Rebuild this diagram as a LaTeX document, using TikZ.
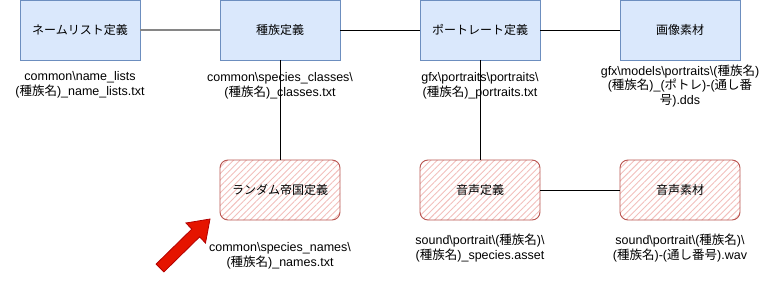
\documentclass[tikz,border=0pt]{standalone}
\usepackage{fontspec}
\setmainfont{Liberation Sans}
\newfontfamily\jp{Noto Sans CJK JP}
\usetikzlibrary{patterns.meta}
\definecolor{bluefill}{HTML}{DAE8FC}
\definecolor{blueline}{HTML}{6C8EBF}
\definecolor{redline}{HTML}{B85450}
\definecolor{hatch}{HTML}{F2BFBC}
\definecolor{arrowred}{HTML}{E51400}
\definecolor{arrowline}{HTML}{B20000}
\tikzset{
  bluebox/.style={draw=blueline, fill=bluefill, line width=0.9pt, minimum width=120pt, minimum height=60pt, inner sep=0pt, font=\jp\fontsize{12}{15}\selectfont},
  redbox/.style={draw=redline, line width=0.9pt, rounded corners=8pt, pattern={Lines[angle=45,distance=4.5pt,line width=0.9pt]}, pattern color=hatch, minimum width=120pt, minimum height=60pt, inner sep=0pt, font=\jp\fontsize{12}{15}\selectfont},
  lbl/.style={align=center, inner sep=0pt, font=\fontsize{12.5}{14.5}\selectfont},
  conn/.style={draw=black, line width=0.9pt},
  grayconn/.style={draw=gray!95, line width=2pt},
  bigarrow/.style={draw=arrowline, fill=arrowred, line width=0.8pt, line join=miter}
}
\newcommand{\bs}{\textbackslash}
\newcommand{\spn}{{\jp 種族名}}
\begin{document}
\begin{tikzpicture}[x=1pt,y=-1pt]
\useasboundingbox (0,0) rectangle (761,292);
% blue boxes
\node[bluebox] (nl) at (80,30) {ネームリスト定義};
\node[bluebox] (sc) at (280,30) {種族定義};
\node[bluebox] (pt) at (480,30) {ポートレート定義};
\node[bluebox] (im) at (680,30) {画像素材};
% red boxes
\node[redbox] (re) at (280,190) {ランダム帝国定義};
\node[redbox] (vo) at (480,190) {音声定義};
\node[redbox] (vm) at (680,190) {音声素材};
% labels
\node[lbl] (l1) at (80,85) {common\bs name\_lists\\(\spn)\_name\_lists.txt};
\node[lbl] (l2) at (280,86) {common\bs species\_classes\bs\\(\spn)\_classes.txt};
\node[lbl] (l3) at (480,86) {gfx\bs portraits\bs portraits\bs\\(\spn)\_portraits.txt};
\node[lbl] (l4) at (680,86) {gfx\bs models\bs portraits\bs(\spn)\\(\spn)\_({\jp ポトレ})-({\jp 通し番}\\{\jp 号}).dds};
\node[lbl] (l5) at (280,256) {common\bs species\_names\bs\\(\spn)\_names.txt};
\node[lbl] (l6) at (480,248) {sound\bs portrait\bs(\spn)\bs\\(\spn)\_species.asset};
\node[lbl] (l7) at (680,248) {sound\bs portrait\bs(\spn)\bs\\(\spn)-({\jp 通し番号}).wav};
% connectors
\draw[grayconn] (nl.east) -- (sc.west);
\draw[conn] (sc.east) -- (pt.west);
\draw[conn] (pt.east) -- (im.west);
\draw[conn] (sc.south) -- (re.north);
\draw[conn] (pt.south) -- (vo.north);
\draw[conn] (vo.east) -- (vm.west);
% red arrow
\coordinate (tip) at (210,219);
\draw[bigarrow] (156.1,264.1) -- (191.8,229.1) -- (185.9,223) -- (tip) -- (205.5,243) -- (199.6,236.9) -- (163.9,271.9) -- cycle;
\end{tikzpicture}
\end{document}
